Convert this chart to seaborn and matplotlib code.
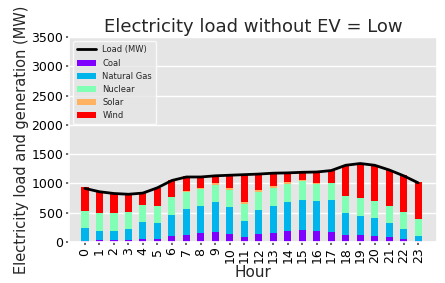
import numpy as np
import pandas as pd
import matplotlib
matplotlib.use("Agg")
import matplotlib.pyplot as plt
import seaborn as sns
from matplotlib.lines import Line2D
from matplotlib.patches import Patch

# Values (MW)
hours = [str(h) for h in range(24)]
coal = [25, 35, 35, 29, 58, 52, 100, 126, 148, 167, 135, 80,
        135, 161, 184, 207, 190, 178, 121, 115, 104, 80, 52, 23]
natural_gas = [213, 151, 151, 186, 279, 268, 364, 439, 460, 516, 456, 274,
               407, 448, 506, 509, 506, 541, 373, 333, 310, 236, 172, 72]
nuclear = [296, 302, 302, 296, 296, 296, 300, 294, 302, 294, 299, 297,
           311, 316, 299, 322, 299, 287, 299, 299, 293, 293, 293, 296]
solar = [0, 0, 0, 0, 0, 0, 0, 5, 15, 25, 30, 35,
         35, 35, 30, 25, 15, 5, 0, 0, 0, 0, 0, 0]
wind = [401, 378, 349, 302, 215, 314, 291, 263, 185, 136, 230, 467,
        273, 224, 165, 133, 186, 214, 529, 610, 610, 616, 621, 627]
load = [915, 858, 828, 815, 835, 925, 1050, 1110, 1110, 1130, 1140, 1150,
        1160, 1175, 1180, 1190, 1195, 1220, 1310, 1340, 1310, 1230, 1130, 1010]

sources = ["Coal", "Natural Gas", "Nuclear", "Solar", "Wind"]
df = pd.DataFrame(
    {"Hour": hours, "Coal": coal, "Natural Gas": natural_gas,
     "Nuclear": nuclear, "Solar": solar, "Wind": wind}
)
colors = plt.cm.rainbow(np.linspace(0, 1, len(sources)))

sns.set_theme(
    style="darkgrid",
    rc={
        "axes.facecolor": "#E5E5E5",
        "grid.color": "white",
        "grid.linewidth": 1.0,
        "xtick.bottom": True,
        "ytick.left": True,
        "xtick.color": "#555555",
        "ytick.color": "#555555",
        "xtick.labelcolor": "black",
        "ytick.labelcolor": "black",
        "xtick.major.size": 2.5,
        "ytick.major.size": 2.5,
    },
)
plt.rcParams["font.family"] = ["DejaVu Sans"]

fig = plt.figure(figsize=(4.45, 2.83), dpi=100)
ax = fig.add_axes([0.155, 0.145, 0.827, 0.724])

# Stacked bars: draw cumulative totals from the top layer down
cum = df[sources].cumsum(axis=1)
for name, col in reversed(list(zip(sources, colors))):
    sns.barplot(x=df["Hour"], y=cum[name], color=col, width=0.5,
                saturation=1, linewidth=0, edgecolor="none", ax=ax)

sns.lineplot(x=np.arange(len(hours)), y=load, color="black", lw=2, ax=ax)

ax.set_xlim(-1.1, 24.3)
ax.set_ylim(0, 3500)
ax.set_yticks(np.arange(0, 3501, 500))
ax.tick_params(axis="both", labelsize=9, pad=1.5)
ax.tick_params(axis="x", rotation=90)
ax.set_xlabel("Hour", fontsize=11, labelpad=1)
ax.set_ylabel("Electricity load and generation (MW)", fontsize=10.5, labelpad=2)
ax.set_title("Electricity load without EV = Low", fontsize=13, pad=4)

handles = [Line2D([0], [0], color="black", lw=2, label="Load (MW)")]
handles += [Patch(facecolor=c, edgecolor="none", label=n)
            for n, c in zip(sources, colors)]
ax.legend(handles=handles, loc="upper left", fontsize=6,
          frameon=True, facecolor="#E5E5E5", edgecolor="white",
          handlelength=2.2, borderpad=0.5, labelspacing=0.5)

fig.savefig("out.png", dpi=100)
